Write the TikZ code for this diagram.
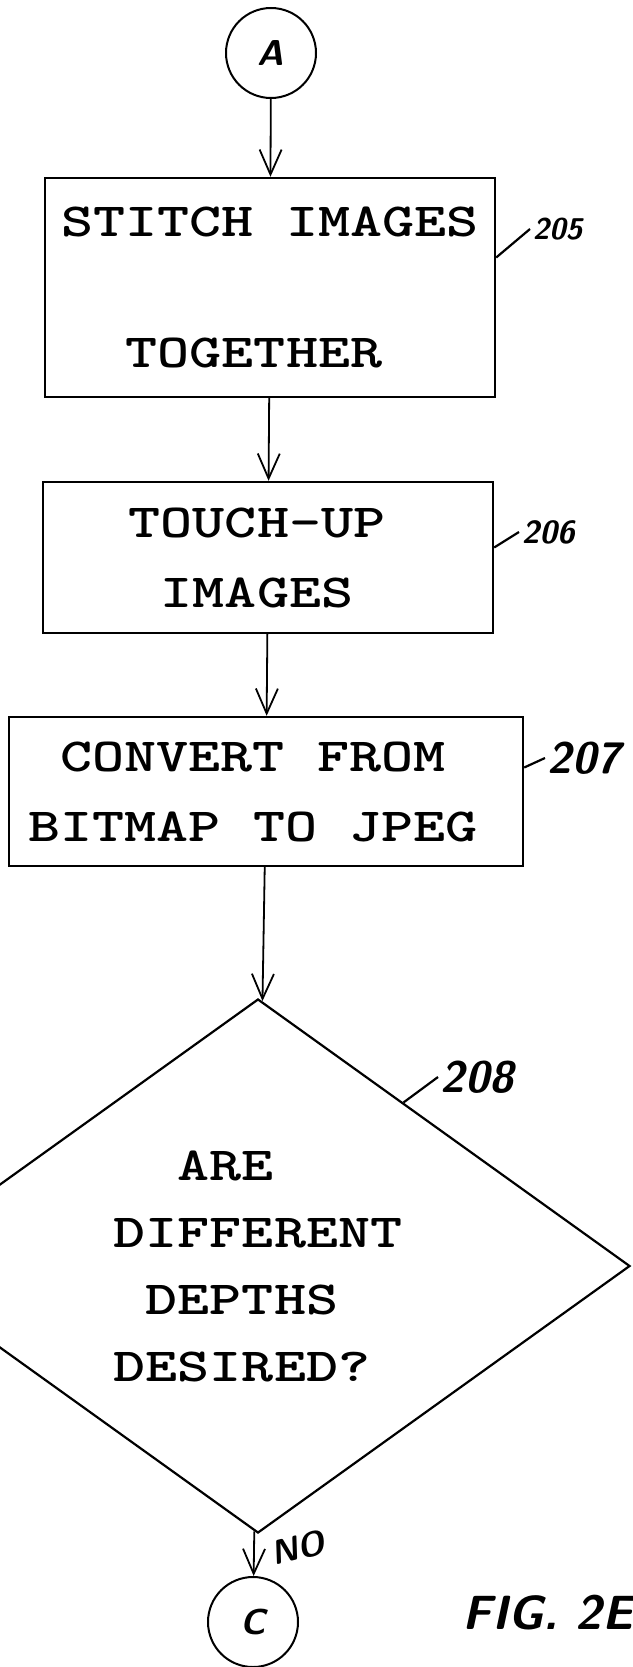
\documentclass[tikz,border=0pt]{standalone}
\usepackage{graphicx}
\usepackage{tikz}
\usetikzlibrary{positioning}
\usetikzlibrary{shapes.geometric,arrows.meta,calc}
\newcommand\stretchtt[1]{\scalebox{1.285}[1]{#1}}
\newcommand\hsz[1]{\fontsize{#1}{#1}\selectfont}
\tikzset{
  -{Straight Barb[length=25pt,width=22pt]},
  proc/.style ={rectangle, draw, line width=2.4pt, inner sep=0pt, align=left,
   font=\ttfamily\bfseries\fontsize{47.5}{70}\selectfont},
  dec/.style = {diamond, draw, line width=2.2pt, inner sep=0pt, aspect=1.39,
   align=left, font=\ttfamily\bfseries\fontsize{47.5}{67}\selectfont},
  conn/.style = {circle, draw, line width=2pt, minimum size=90pt, inner sep=0pt,
   font=\sffamily\bfseries\slshape\hsz{36}},
  num/.style = {inner sep=2pt, anchor=west},
  lead/.style = {-, line width=2.2pt},
}
\begin{document}
\begin{tikzpicture}[x=1pt, y=-1pt, line width=1.8pt]
  \useasboundingbox (0,0) rectangle (632,1667);
  \clip (0,0) rectangle (632,1667);
  % steps
  \node (cA) [conn] at (271,53) {A};
  \node (b205) [proc, minimum width=450pt, minimum height=219pt] at (270,287.5)
    {\stretchtt{STITCH IMAGES}\\[61pt]\stretchtt{\ \ TOGETHER}};
  \node (b206) [proc, minimum width=450pt, minimum height=151pt] at (268,557.5)
    {\stretchtt{TOUCH-UP}\hspace*{22pt}\\\stretchtt{\ IMAGES}};
  \node (b207) [proc, minimum width=514pt, minimum height=149pt] at (266,791.5)
    {\stretchtt{\ CONVERT FROM}\\\stretchtt{BITMAP TO JPEG}\hspace*{26pt}};
  \node (d208) [dec, minimum width=744pt, minimum height=534pt] at (258,1266)
    {\stretchtt{\ \ ARE}\\\stretchtt{DIFFERENT}\\\stretchtt{\ DEPTHS}\\\stretchtt{DESIRED?}};
  \node (cC) [conn] at (253,1622) {C};
  % reference numbers
  \node (l205) [num, font=\sffamily\bfseries\slshape\hsz{30}] at (530,229) {205};
  \node (l206) [num, font=\sffamily\bfseries\slshape\hsz{32}] at (519,532) {206};
  \node (l207) [num, font=\sffamily\bfseries\slshape\hsz{44}] at (545,758) {207};
  \node (l208) [num, font=\sffamily\bfseries\slshape\hsz{44}] at (438,1077) {208};
  \node (no) [font=\sffamily\bfseries\slshape\hsz{34}, rotate=14] at (298,1548) {NO};
  \node (fig) [num, font=\sffamily\bfseries\slshape\hsz{48}] at (460,1613) {FIG. 2E};
  \draw[lead] ([yshift=30pt]b205.east) -- (l205.west);
  \draw[lead] ([yshift=10pt]b206.east) -- (l206.west);
  \draw[lead] ([yshift=24pt]b207.east) -- (l207.west);
  \draw[lead] ($(d208.north)!0.39!(d208.east)$) -- (l208.west);
  % flow
  \path (cA) edge (b205);
  \path (b205) edge (b206);
  \path (b206) edge (b207);
  \path (b207) edge (d208);
  \path (d208) edge (cC);
\end{tikzpicture}
\end{document}
